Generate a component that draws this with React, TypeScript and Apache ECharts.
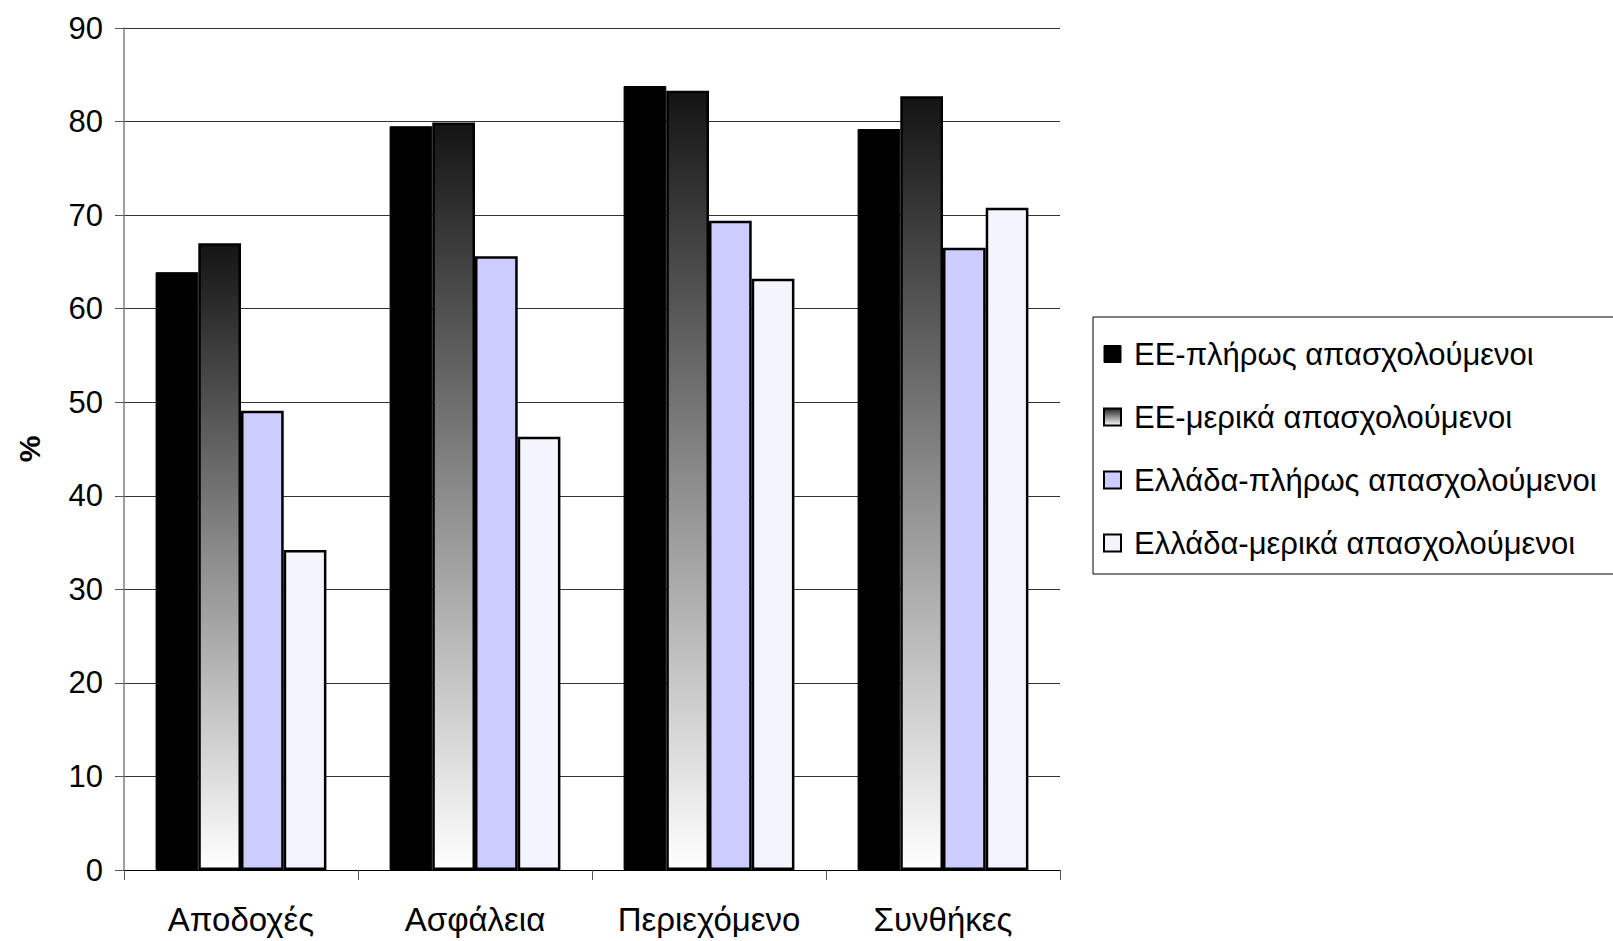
import React, { useEffect, useRef } from "react";
import * as echarts from "echarts";

const categories = ["Αποδοχές", "Ασφάλεια", "Περιεχόμενο", "Συνθήκες"];
const seriesNames = [
  "ΕΕ-πλήρως απασχολούμενοι",
  "ΕΕ-μερικά απασχολούμενοι",
  "Ελλάδα-πλήρως απασχολούμενοι",
  "Ελλάδα-μερικά απασχολούμενοι",
];
const euFull = [63.9, 79.5, 83.8, 79.2];
const euPart = [67.0, 79.9, 83.3, 82.7];
const grFull = [49.1, 65.6, 69.4, 66.5];
const grPart = [34.2, 46.3, 63.2, 70.8];
const yTicks = { min: 0, max: 90, interval: 10 };

const FONT = "'Liberation Sans', Arial, sans-serif";

export default function App() {
  const ref = useRef<HTMLDivElement>(null);
  useEffect(() => {
    if (!ref.current) return;
    const chart = echarts.init(ref.current, undefined, { renderer: "svg" });
    const grad = new echarts.graphic.LinearGradient(0, 0, 0, 1, [
      { offset: 0, color: "#141414" },
      { offset: 0.5, color: "#8c8c8c" },
      { offset: 1, color: "#ffffff" },
    ]);
    const styles = [
      { color: "#000000", borderColor: "#000000", borderWidth: 1 },
      { color: grad, borderColor: "#000000", borderWidth: 2.5 },
      { color: "#ccccff", borderColor: "#000000", borderWidth: 2.5 },
      { color: "#f4f4fc", borderColor: "#000000", borderWidth: 2.5 },
    ];
    const legendIcons = [
      { color: "#000000", borderColor: "#000000", borderWidth: 1 },
      {
        color: new echarts.graphic.LinearGradient(0, 0, 0, 1, [
          { offset: 0, color: "#222" },
          { offset: 1, color: "#fff" },
        ]),
        borderColor: "#000000",
        borderWidth: 2,
      },
      { color: "#ccccff", borderColor: "#000000", borderWidth: 2 },
      { color: "#f4f4fc", borderColor: "#000000", borderWidth: 2 },
    ];
    const datas = [euFull, euPart, grFull, grPart];
    chart.setOption({
      animation: false,
      backgroundColor: "#ffffff",
      textStyle: { fontFamily: FONT, color: "#000" },
      grid: { left: 124, right: 553, top: 28, bottom: 71, containLabel: false },
      legend: {
        orient: "vertical",
        left: 1093,
        top: 317,
        padding: [21, 60, 15, 10],
        itemGap: 31,
        itemWidth: 17,
        itemHeight: 17,
        borderColor: "#000",
        borderWidth: 1,
        icon: "rect",
        textStyle: { fontSize: 31, lineHeight: 32, color: "#000", fontFamily: FONT, padding: [0, 0, 0, 8] },
        data: seriesNames.map((n, i) => ({ name: n, itemStyle: legendIcons[i] })),
      },
      xAxis: {
        type: "category",
        data: categories,
        axisLine: { lineStyle: { color: "#000", width: 1 } },
        axisTick: { show: true, interval: 0, length: 10, lineStyle: { color: "#555" } },
        axisLabel: { interval: 0, fontSize: 33, color: "#000", margin: 33, fontFamily: FONT },
      },
      yAxis: {
        type: "value",
        min: yTicks.min,
        max: yTicks.max,
        interval: yTicks.interval,
        name: "%",
        nameLocation: "middle",
        nameGap: 80,
        nameTextStyle: { fontSize: 30, fontWeight: "bold", color: "#000", fontFamily: FONT },
        axisLine: { show: true, lineStyle: { color: "#808080", width: 1.5 } },
        axisTick: { show: true, length: 9, lineStyle: { color: "#555" } },
        axisLabel: { fontSize: 31, color: "#000", margin: 21, fontFamily: FONT },
        splitLine: { show: true, lineStyle: { color: "#333", width: 1 } },
      },
      series: seriesNames.map((n, i) => ({
        name: n,
        type: "bar",
        data: datas[i],
        barGap: "0%",
        barCategoryGap: "27%",
        itemStyle: styles[i],
      })),
    });
    return () => chart.dispose();
  }, []);
  return (
    <div
      ref={ref}
      style={{ position: "fixed", left: 0, top: 0, width: 1613, height: 941, background: "#fff" }}
    />
  );
}
